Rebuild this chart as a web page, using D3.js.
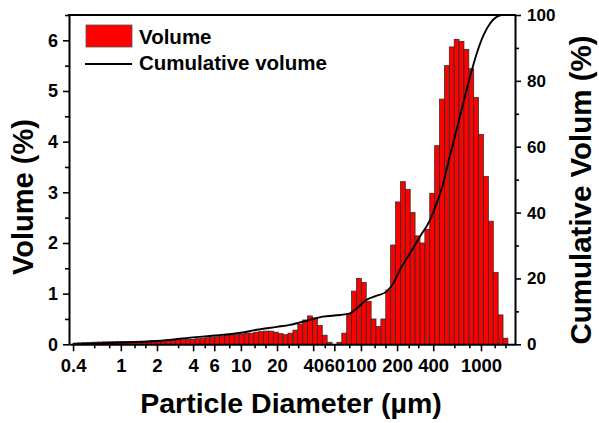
<!DOCTYPE html>
<html>
<head>
<meta charset="utf-8">
<script src="https://cdn.jsdelivr.net/npm/d3@7"></script>
<style>
  html, body { margin: 0; padding: 0; background: #fff; }
  svg { display: block; }
  text { font-family: "Liberation Sans", Arial, sans-serif; font-weight: bold; fill: #000; }
</style>
</head>
<body>
<svg id="chart" width="599" height="423"></svg>
<script>
// ---- Data ----
// size-class edges (µm), one more than bars
const binEdges = [0.400,0.439,0.482,0.530,0.582,0.639,0.702,0.771,0.846,0.930,
  1.021,1.121,1.231,1.352,1.485,1.632,1.792,1.968,2.161,2.373,
  2.606,2.862,3.143,3.452,3.791,4.164,4.573,5.022,5.515,6.057,
  6.653,7.306,8.024,8.812,9.678,10.63,11.67,12.82,14.08,15.46,
  16.98,18.65,20.48,22.49,24.70,27.13,29.80,32.73,35.94,39.47,
  43.35,47.61,52.29,57.43,63.07,69.27,76.07,83.55,91.75,100.8,
  110.7,121.6,133.5,146.6,161.0,176.8,194.2,213.3,234.2,257.3,
  282.5,310.3,340.8,374.2,411.0,451.4,495.8,544.5,598.0,656.8,
  721.1,792.0,869.8,955.3,1049,1152,1266,1390,1526,1676];
// volume (%) per size class
const volume = [0.025,0.03,0.034,0.038,0.042,0.045,0.048,0.05,0.052,0.054,
  0.055,0.056,0.058,0.06,0.062,0.065,0.068,0.072,0.076,0.08,
  0.085,0.09,0.095,0.10,0.10,0.11,0.12,0.13,0.14,0.15,
  0.16,0.18,0.18,0.19,0.20,0.22,0.22,0.24,0.25,0.26,
  0.26,0.24,0.21,0.19,0.22,0.28,0.39,0.48,0.56,0.52,
  0.37,0.18,0.04,0.00,0.04,0.22,0.61,1.05,1.30,1.22,
  0.85,0.50,0.35,0.50,1.07,1.96,2.81,3.21,3.06,2.60,
  2.14,2.00,2.27,2.98,3.92,4.84,5.50,5.87,6.02,5.98,
  5.82,5.44,4.87,4.14,3.31,2.43,1.42,0.58,0.12];
// cumulative volume curve (size µm, %)
const cumSize = [0.4,1,2,4,5.8,10,13.5,20,25.6,35,48,67,81,92,111,134,163,186,211,256,310,376,427,485,540,606,711,811,923,1050,1194,1359,1490,1900];
const cumPct  = [0,0.5,1.0,2.1,2.6,3.5,4.4,5.3,5.9,7.1,8.4,8.9,9.4,10.9,13.5,14.7,16.0,18.5,22.6,27.6,32.7,37.7,42.8,48.9,56,63,73.2,81.3,88.4,93.9,97.5,99.5,100,100];

const xMajor = [0.4,1,2,4,6,10,20,40,60,100,200,400,1000];
const xMinor = [0.6,0.8,1.3,1.6,3,5,8,13,16,25,30,50,80,130,160,250,300,600,800,1300,1600];
const yLeftTicks = [0,1,2,3,4,5,6];
const yLeftMinor = [0.5,1.5,2.5,3.5,4.5,5.5,6.5];
const yRightTicks = [0,20,40,60,80,100];
const yRightMinor = [10,30,50,70,90];

// ---- Layout ----
const L = 69, R = 515, T = 15, B = 344.3;
const svg = d3.select("#chart");
svg.append("rect").attr("width",599).attr("height",423).attr("fill","#fff");

const x = d3.scaleLog().domain([0.37, 1920]).range([L, R]);
const yL = d3.scaleLinear().domain([0, 6.5]).range([B, T]);
const yR = d3.scaleLinear().domain([0, 100]).range([B, T]);

// bars
const bars = volume.map((v, i) => ({v, a: binEdges[i], b: binEdges[i+1]}));
svg.append("g").selectAll("rect").data(bars).join("rect")
  .attr("x", d => x(d.a))
  .attr("width", d => x(d.b) - x(d.a))
  .attr("y", d => yL(d.v))
  .attr("height", d => yL(0) - yL(d.v))
  .attr("fill", "#ff0000")
  .attr("stroke", "#2a2a2a")
  .attr("stroke-width", 0.75);

// cumulative line
const cum = cumSize.map((s, i) => [s, cumPct[i]]);
svg.append("path").datum(cum)
  .attr("fill","none").attr("stroke","#000").attr("stroke-width",1.9)
  .attr("d", d3.line().x(d => x(d[0])).y(d => yR(d[1])).curve(d3.curveMonotoneX));

// axes
function styleAxis(g, fs) {
  g.select(".domain").attr("stroke-width", 2).attr("stroke","#000");
  g.selectAll(".tick line").attr("stroke-width", 1.6).attr("stroke","#000");
  g.selectAll("text").attr("font-size", fs);
}
function minor(g) {
  g.select(".domain").remove();
  g.selectAll(".tick line").attr("stroke-width",1.6).attr("stroke","#000");
}
// bottom
minor(svg.append("g").attr("transform",`translate(0,${B})`)
  .call(d3.axisBottom(x).tickValues(xMinor).tickSize(4).tickFormat("")));
const gx = svg.append("g").attr("transform",`translate(0,${B})`)
  .call(d3.axisBottom(x).tickValues(xMajor).tickSize(7).tickSizeOuter(0).tickPadding(8).tickFormat(d3.format("")));
styleAxis(gx, 18.5);

// left
minor(svg.append("g").attr("transform",`translate(${L},0)`)
  .call(d3.axisLeft(yL).tickValues(yLeftMinor).tickSize(4).tickFormat("")));
const gy = svg.append("g").attr("transform",`translate(${L},0)`)
  .call(d3.axisLeft(yL).tickValues(yLeftTicks).tickSize(6).tickSizeOuter(0).tickPadding(5).tickFormat(d3.format("d")));
styleAxis(gy, 18);

// right
minor(svg.append("g").attr("transform",`translate(${R},0)`)
  .call(d3.axisRight(yR).tickValues(yRightMinor).tickSize(4).tickFormat("")));
const gr = svg.append("g").attr("transform",`translate(${R},0)`)
  .call(d3.axisRight(yR).tickValues(yRightTicks).tickSize(6).tickSizeOuter(0).tickPadding(6).tickFormat(d3.format("d")));
styleAxis(gr, 17);

// top frame
svg.append("line").attr("x1",L-1).attr("x2",R+1).attr("y1",T).attr("y2",T)
  .attr("stroke","#000").attr("stroke-width",2);

// axis titles
svg.append("text").attr("x", 291).attr("y", 413).attr("text-anchor","middle")
  .attr("font-size", 28.5).text("Particle Diameter (µm)");
svg.append("text").attr("transform","translate(33,197) rotate(-90)").attr("text-anchor","middle")
  .attr("font-size", 29).text("Volume (%)");
svg.append("text").attr("transform","translate(591,190) rotate(-90)").attr("text-anchor","middle")
  .attr("font-size", 29.5).text("Cumulative Volum (%)");

// legend
svg.append("rect").attr("x",86).attr("y",25).attr("width",46).attr("height",22)
  .attr("fill","#ff0000").attr("stroke","#555").attr("stroke-width",0.8);
svg.append("text").attr("x",139).attr("y",43.5).attr("font-size",20.5).text("Volume");
svg.append("line").attr("x1",85).attr("x2",132).attr("y1",64).attr("y2",64)
  .attr("stroke","#000").attr("stroke-width",1.8);
svg.append("text").attr("x",139).attr("y",70).attr("font-size",20.5).text("Cumulative volume");
</script>
</body>
</html>
